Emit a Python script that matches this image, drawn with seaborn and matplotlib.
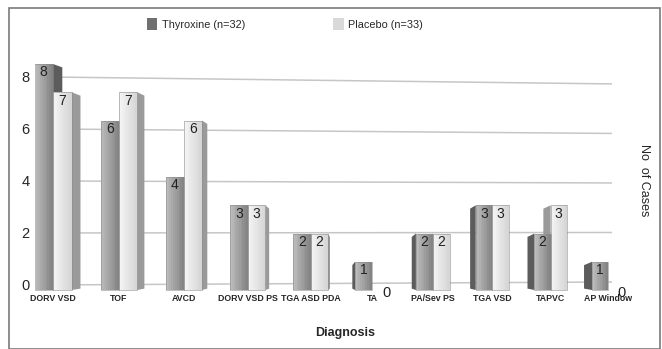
import matplotlib
matplotlib.use("Agg")
import numpy as np
import matplotlib.pyplot as plt
from matplotlib.patches import Rectangle, Polygon
import seaborn as sns
import pandas as pd

diagnoses = ["DORV VSD", "TOF", "AVCD", "DORV VSD PS", "TGA ASD PDA",
             "TA", "PA/Sev PS", "TGA VSD", "TAPVC", "AP Window"]
thyroxine = [8, 6, 4, 3, 2, 1, 2, 3, 2, 1]
placebo = [7, 7, 6, 3, 2, 0, 2, 3, 3, 0]
groups = ["Thyroxine (n=32)", "Placebo (n=33)"]
y_ticks = [0, 2, 4, 6, 8]

df = pd.DataFrame({
    "Diagnosis": diagnoses * 2,
    "Cases": thyroxine + placebo,
    "Group": [groups[0]] * len(diagnoses) + [groups[1]] * len(diagnoses),
})

front = {groups[0]: "#a8a8a8", groups[1]: "#e7e7e7"}
shade_range = {groups[0]: (188, 132), groups[1]: (244, 214)}
side = {groups[0]: "#5c5c5c", groups[1]: "#9a9a9a"}

sns.set_theme(style="white")
plt.rcParams["font.family"] = ["Liberation Sans", "DejaVu Sans"]

fig = plt.figure(figsize=(6.62, 3.49), dpi=100)
rect = [35 / 662, 57 / 349, 605 / 662, 252 / 349]

# back wall: grid lines and y tick labels
wall = fig.add_axes(rect)
wall.set_xlim(0, 1)
wall.set_ylim(-0.27, 9.42)
x_left, x_right = 10 / 605, 577 / 605
for t in y_ticks:
    t_far = 0.115 + 0.952 * t   # lines converge slightly towards the right
    wall.plot([x_left, x_right], [t, t_far], color="#c6c6c6", lw=1.1,
              solid_capstyle="butt")
wall.set_xticks([])
wall.set_yticks(y_ticks)
wall.set_yticklabels([str(t) for t in y_ticks], fontsize=10.5)
wall.tick_params(axis="y", length=0, pad=4)
for s in wall.spines.values():
    s.set_visible(False)
wall.patch.set_alpha(0)

# bars in front of the wall
ax = fig.add_axes(rect)
sns.barplot(data=df, x="Diagnosis", y="Cases", hue="Group",
            palette=front, width=0.56, saturation=1, legend=False,
            edgecolor="none", ax=ax, zorder=3)

k = 0.008158   # mild perspective along the category axis


def fwd(x):
    return x - k * np.asarray(x) ** 2


def inv(y):
    y = np.asarray(y)
    return (1 - np.sqrt(np.clip(1 - 4 * k * y, 0, None))) / (2 * k)


ax.set_xscale("function", functions=(fwd, inv))
ax.set_xlim(-0.27, 9.567)
ax.set_ylim(-0.07, 8.85)

centre = 4.3
n_strips = 10
for container, grp in zip(ax.containers, groups):
    lo, hi = shade_range[grp]
    for bar, val in zip(container.patches, container.datavalues):
        x0 = bar.get_x()
        w = bar.get_width()
        xc = x0 + w / 2
        if val <= 0:
            ax.text(xc + 0.09, -0.12, "0", ha="center", va="center",
                    fontsize=10.5, color="#222222", zorder=6, clip_on=False)
            continue
        # shaded front face
        for j in range(n_strips):
            g = (lo + (hi - lo) * j / (n_strips - 1)) / 255
            ax.add_patch(Rectangle((x0 + w * j / n_strips, 0),
                                   w / n_strips * 1.02, val,
                                   facecolor=(g, g, g), edgecolor="none",
                                   zorder=3.2))
        # side face, turned away from the middle of the chart
        d = min(0.14, 0.03 + 0.025 * abs(xc - centre))
        drop = 0.12
        if xc < centre:
            e = x0 + w
            poly = [(e, 0), (e + d, 0.05), (e + d, val - drop), (e, val)]
        else:
            e = x0
            poly = [(e, 0), (e - d, 0.05), (e - d, val - drop), (e, val)]
        ax.add_patch(Polygon(poly, closed=True, facecolor=side[grp],
                             edgecolor="none", zorder=2.5))
        ax.add_patch(Rectangle((x0, 0), w, val, facecolor="none",
                               edgecolor="#8c8c8c", lw=0.4, zorder=5))
        ax.text(xc, val - 0.3, f"{int(val)}", ha="center", va="center",
                fontsize=10, color="#222222", zorder=6)

ax.set_xticks(range(len(diagnoses)))
ax.set_xticklabels(diagnoses, fontsize=6.3, fontweight="bold")
ax.set_yticks([])
ax.tick_params(axis="x", length=0, pad=1.5)
ax.set_xlabel("")
ax.set_ylabel("")
for s in ax.spines.values():
    s.set_visible(False)
ax.patch.set_alpha(0)

fig.text(345 / 662, 1 - 333 / 349, "Diagnosis", ha="center", va="center",
         fontsize=9, fontweight="bold")
fig.text(1 - 18 / 662, 1 - 180 / 349, "No  of Cases", ha="center",
         va="center", rotation=270, fontsize=9)

handles = [Rectangle((0, 0), 1, 1, facecolor="#707070", edgecolor="none"),
           Rectangle((0, 0), 1, 1, facecolor="#d9d9d9", edgecolor="none")]
fig.legend(handles, groups, ncol=2, loc="center",
           bbox_to_anchor=(0.43, 1 - 24 / 349), frameon=False,
           fontsize=7.8, handlelength=1.0, handleheight=1.2,
           handletextpad=0.4, columnspacing=8.1)

# outer frame
fig.patches.append(Rectangle((9 / 662, 0), 651 / 662, 1 - 8 / 349,
                             transform=fig.transFigure, fill=False,
                             edgecolor="#7a7a7a", lw=1.2))

fig.savefig("out.png", dpi=100)
